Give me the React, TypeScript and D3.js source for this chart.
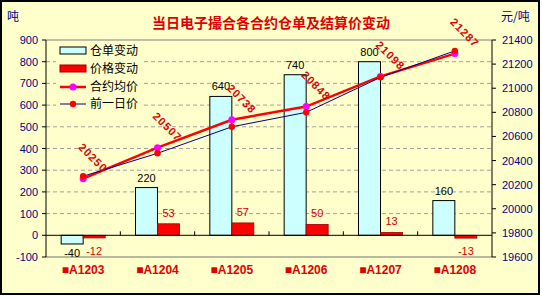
import React from "react";
import * as d3 from "d3";

const categories = ["A1203", "A1204", "A1205", "A1206", "A1207", "A1208"];
const warrantChange = [-40, 220, 640, 740, 800, 160];
const priceChange = [-12, 53, 57, 50, 13, -13];
const avgPrice = [20250, 20507, 20738, 20848, 21098, 21287];
const prevPrice = [20270, 20460, 20680, 20800, 21090, 21310];
const leftTicks = [-100, 0, 100, 200, 300, 400, 500, 600, 700, 800, 900];
const rightTicks = [19600, 19800, 20000, 20200, 20400, 20600, 20800, 21000, 21200, 21400];
const legendLabels = ["仓单变动", "价格变动", "合约均价", "前一日价"];
const title = "当日电子撮合各合约仓单及结算价变动";

const W = 542, H = 297;
const PL = 46, PR = 492, PT = 40, PB = 257;
const BG = "#FFFFCC";
const NAVY = "#000080";
const latin = "'Liberation Sans', Arial, sans-serif";
const cjk = "'Noto Sans CJK SC', sans-serif";

export default function App() {
  const x = d3.scaleBand<string>().domain(categories).range([PL, PR]).paddingInner(0).paddingOuter(0);
  const yL = d3.scaleLinear().domain([-100, 900]).range([PB, PT]);
  const yR = d3.scaleLinear().domain([19600, 21400]).range([PB, PT]);
  const bw = 22;
  const cx = (c: string) => (x(c) as number) + x.bandwidth() / 2;
  const lineAvg = d3.line<number>().x((_, i) => cx(categories[i])).y((d) => yR(d));
  const y0 = yL(0);

  return (
    <svg width={W} height={H} style={{ position: "fixed", left: 0, top: 0 }}>
      <rect x={0} y={0} width={W} height={H} fill="#ffffff" />
      <rect x={1} y={1} width={538} height={293} fill={BG} stroke="#000" strokeWidth={2} />
      <text x={271} y={28} textAnchor="middle" fontFamily={cjk} fontWeight="bold" fontSize={14} fill="#E00000">{title}</text>
      <text x={7} y={21} fontFamily={cjk} fontSize={12} fill={NAVY}>吨</text>
      <text x={501} y={21} fontFamily={cjk} fontSize={12} fill={NAVY}>元/吨</text>

      {leftTicks.filter((t) => t > 0 && t < 900).map((t) => (
        <line key={"g" + t} x1={PL} x2={PR} y1={yL(t)} y2={yL(t)} stroke="#A0A0A0" strokeDasharray="4,3" />
      ))}
      <line x1={PL} x2={PR} y1={PT} y2={PT} stroke="#808080" />
      <line x1={PL} x2={PR} y1={PB} y2={PB} stroke="#707070" />

      <line x1={PL} x2={PL} y1={PT} y2={PB} stroke="#000" />
      {leftTicks.map((t) => (
        <g key={"l" + t}>
          <line x1={PL - 4} x2={PL} y1={yL(t)} y2={yL(t)} stroke="#000" />
          <text x={38} y={yL(t) + 4} textAnchor="end" fontFamily={latin} fontSize={11} fill={NAVY}>{t}</text>
        </g>
      ))}
      <line x1={PR} x2={PR} y1={PT} y2={PB} stroke="#000" />
      {rightTicks.map((t) => (
        <g key={"r" + t}>
          <line x1={PR} x2={PR + 4} y1={yR(t)} y2={yR(t)} stroke="#000" />
          <text x={502} y={yR(t) + 4} fontFamily={latin} fontSize={11} fill={NAVY}>{t}</text>
        </g>
      ))}

      {categories.map((c, i) => {
        const c0 = cx(c);
        const v1 = warrantChange[i], v2 = priceChange[i];
        return (
          <g key={"b" + c}>
            <rect x={c0 - bw} y={Math.min(yL(v1), y0)} width={bw} height={Math.abs(yL(v1) - y0)} fill="#CCFFFF" stroke="#000" strokeWidth={1} />
            <rect x={c0} y={Math.min(yL(v2), y0)} width={bw} height={Math.abs(yL(v2) - y0)} fill="#FF0000" stroke="#990000" strokeWidth={0.8} />
            <text x={c0 - bw / 2} y={v1 >= 0 ? yL(v1) - 6 : yL(v1) + 13} textAnchor="middle" fontFamily={latin} fontSize={11} fill="#000">{v1}</text>
            <text x={c0 + bw / 2} y={v2 >= 0 ? yL(v2) - 7 : y0 + 20} textAnchor="middle" fontFamily={latin} fontSize={11} fill="#D00000">{v2}</text>
            <text x={c0} y={274} textAnchor="middle" fontFamily={latin} fontWeight="bold" fontSize={12} fill="#E00000">{"■" + c}</text>
          </g>
        );
      })}
      <line x1={PL} x2={PR} y1={y0} y2={y0} stroke="#000" />
      {categories.slice(1).map((c) => (
        <line key={"t" + c} x1={x(c) as number} x2={x(c) as number} y1={y0 - 4} y2={y0} stroke="#000" />
      ))}

      <path d={lineAvg(avgPrice) || ""} fill="none" stroke="#FF0000" strokeWidth={2.5} />
      {avgPrice.map((v, i) => (
        <circle key={"a" + i} cx={cx(categories[i])} cy={yR(v)} r={3.5} fill="#FF00FF" />
      ))}
      <path d={lineAvg(prevPrice) || ""} fill="none" stroke={NAVY} strokeWidth={1} />
      {prevPrice.map((v, i) => (
        <circle key={"p" + i} cx={cx(categories[i])} cy={yR(v)} r={3.2} fill="#FF0000" />
      ))}
      {avgPrice.map((v, i) => {
        const px = cx(categories[i]) + 10, py = yR(v) - 21;
        return (
          <text key={"al" + i} transform={`translate(${px},${py}) rotate(45)`} textAnchor="middle" dy={4}
            fontFamily={latin} fontWeight="bold" fontSize={11} letterSpacing={1} fill="#E00000">{v}</text>
        );
      })}

      <rect x={56} y={43} width={86} height={70} fill={BG} />
      <rect x={60} y={47} width={26} height={7} fill="#CCFFFF" stroke="#000" />
      <rect x={60} y={65} width={26} height={7} fill="#FF0000" stroke="#990000" />
      <line x1={60} x2={86} y1={87} y2={87} stroke="#FF0000" strokeWidth={2.5} />
      <circle cx={73} cy={87} r={3.5} fill="#FF00FF" />
      <line x1={60} x2={86} y1={104} y2={104} stroke={NAVY} strokeWidth={1} />
      <circle cx={73} cy={104} r={3.2} fill="#FF0000" />
      {legendLabels.map((l, i) => (
        <text key={l} x={90} y={[51, 69, 87, 104][i] + 4} fontFamily={cjk} fontSize={12} fill="#000">{l}</text>
      ))}
    </svg>
  );
}
